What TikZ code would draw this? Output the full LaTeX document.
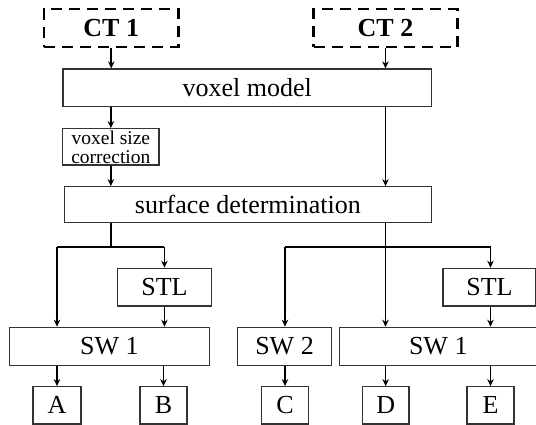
\documentclass[tikz,border=0pt]{standalone}
\usepackage{fontspec}
\setmainfont{Liberation Serif}
\usetikzlibrary{arrows.meta,calc}
\tikzset{
  box/.style={draw=black!80,line width=1.2pt,rectangle,inner sep=0pt,align=center,
    font=\fontsize{26}{28}\selectfont},
  ctbox/.style={draw=black,line width=2.2pt,dash pattern=on 11pt off 7pt,rectangle,inner sep=0pt,
    font=\fontsize{26}{28}\selectfont\bfseries},
  arr/.style={line width=1.6pt,-{Stealth[length=7pt,width=6.5pt]}},
  ln/.style={line width=1.6pt}
}
\begin{document}
\begin{tikzpicture}[x=1pt,y=-1pt]
\useasboundingbox (0,0) rectangle (536,425);
\node[ctbox,minimum width=134.5pt,minimum height=37.4pt] (ct1) at (111.25,28) {CT 1};
\node[ctbox,minimum width=144pt,minimum height=37.4pt] (ct2) at (385.5,28) {CT 2};
\node[box,minimum width=368.5pt,minimum height=37.7pt] (vm) at (247.25,87.85) {voxel model};
\node[box,minimum width=96.3pt,minimum height=36.3pt,font=\fontsize{19.5}{19}\selectfont] (vsc) at (110.85,146.85) {voxel size\\correction};
\node[box,minimum width=367.2pt,minimum height=35.6pt] (sd) at (247.9,204.5) {surface determination};
\node[box,minimum width=93.7pt,minimum height=37.7pt] (stl1) at (164.45,287.15) {STL};
\node[box,minimum width=93pt,minimum height=37.7pt] (stl2) at (489.5,287.15) {STL};
\node[box,minimum width=199.6pt,minimum height=38.4pt] (sw1a) at (109.4,346.5) {SW 1};
\node[box,minimum width=93.4pt,minimum height=38.4pt] (sw2) at (284.5,346.5) {SW 2};
\node[box,minimum width=197.5pt,minimum height=38.4pt] (sw1b) at (438.25,346.5) {SW 1};
\node[box,minimum width=48pt,minimum height=37.3pt] (A) at (57,405.35) {A};
\node[box,minimum width=47pt,minimum height=37.3pt] (B) at (163.5,405.35) {B};
\node[box,minimum width=47pt,minimum height=37.3pt] (C) at (285,405.35) {C};
\node[box,minimum width=46.5pt,minimum height=37.3pt] (D) at (385.65,405.35) {D};
\node[box,minimum width=47pt,minimum height=37.3pt] (E) at (490.5,405.35) {E};
% top arrows
\draw[arr] (ct1.south) -- (ct1.south |- vm.north);
\draw[arr] (ct2.south) -- (ct2.south |- vm.north);
\draw[arr] (vm.south -| vsc) -- (vsc.north);
\draw[arr] (vsc.south) -- (vsc.south |- sd.north);
\draw[arr] (vm.south -| ct2) -- (sd.north -| ct2);
% left branch
\coordinate (bl) at ($(sd.south -| vsc)+(0,24.4)$);
\draw[ln] (sd.south -| vsc) -- (bl);
\draw[ln] (bl -| A) -- (bl -| stl1);
\draw[arr] (bl -| A) -- (sw1a.north -| A);
\draw[arr] (bl -| stl1) -- (stl1.north);
\draw[arr] (stl1.south) -- (sw1a.north -| stl1);
% right branch
\coordinate (br) at ($(sd.south -| ct2)+(0,24.4)$);
\draw[arr] (sd.south -| ct2) -- (sw1b.north -| ct2);
\draw[ln] (br -| C) -- (br -| E);
\draw[arr] (br -| C) -- (sw2.north -| C);
\draw[arr] (br -| E) -- (stl2.north -| E);
\draw[arr] (stl2.south -| E) -- (sw1b.north -| E);
% bottom arrows
\draw[arr] (sw1a.south -| A) -- (A.north);
\draw[arr] (sw1a.south -| B) -- (B.north);
\draw[arr] (sw2.south -| C) -- (C.north);
\draw[arr] (sw1b.south -| D) -- (D.north);
\draw[arr] (sw1b.south -| E) -- (E.north);
\end{tikzpicture}
\end{document}
